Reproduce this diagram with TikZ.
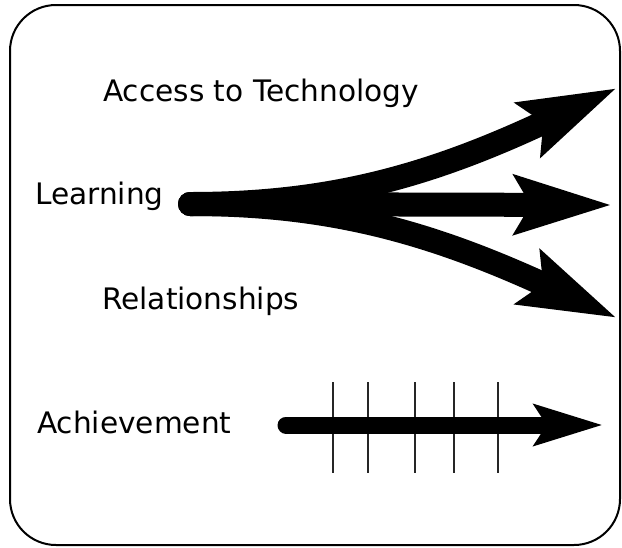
\documentclass[tikz,border=0pt]{standalone}
\usepackage{fontspec}
\setmainfont{DejaVu Sans}
\usetikzlibrary{arrows.meta}
\begin{document}
\begin{tikzpicture}[x=1pt,y=-1pt,
  lbl/.style={anchor=base west, inner sep=0pt, font=\fontsize{29.6}{35}\selectfont},
  bigarrow/.style={line width=24pt, line cap=round, -{Stealth[length=96pt,width=57pt,inset=15pt]}},
  smallarrow/.style={line width=17pt, line cap=round, -{Stealth[length=68pt,width=40pt,inset=12pt]}},
  tickline/.style={line width=2pt, draw=black!85},
  frame/.style={line width=2pt, rounded corners=46pt}]
\useasboundingbox (0,0) rectangle (622,547);
\draw[frame] (10,5) rectangle (620,545);

\node[lbl] (access) at (103,101) {Access to Technology};
\node[lbl] (learning) at (35,204) {Learning};
\node[lbl] (relations) at (102,309) {Relationships};
\node[lbl] (achieve) at (37,433) {Achievement};

\coordinate (start) at (190,204);
\coordinate (tipT) at (617,88);
\coordinate (tipM) at (612,205);
\coordinate (tipB) at (617,318);
\draw[bigarrow] (start) .. controls (330,204) and (430,176) .. (tipT);
\draw[bigarrow] (start) .. controls (330,204) and (430,232) .. (tipB);
\draw[bigarrow] (start) -- (tipM);

\coordinate (aS) at (286,425);
\coordinate (aT) at (603,425);
\foreach \x in {333,368,415,454,498}
  \draw[tickline] (\x,382) -- (\x,473);
\draw[smallarrow] (aS) -- (aT);
\end{tikzpicture}
\end{document}
